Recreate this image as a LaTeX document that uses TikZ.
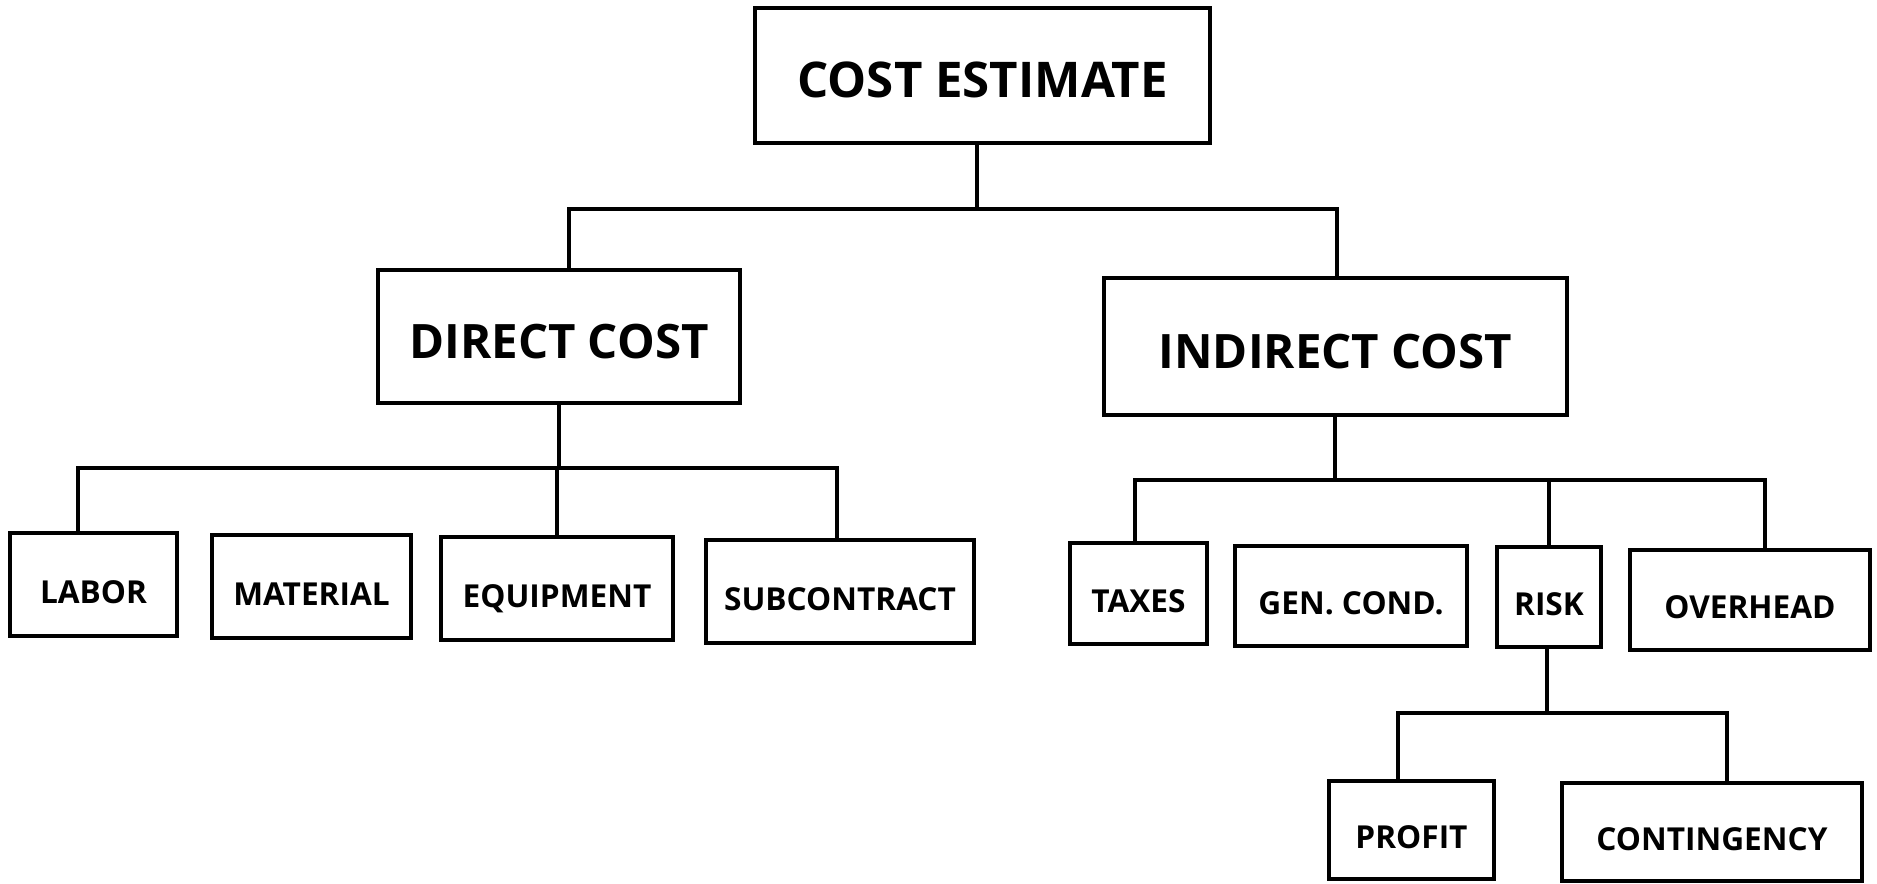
\documentclass[tikz,border=0pt]{standalone}
\usepackage{fontspec}
\setmainfont{Open Sans}
\usetikzlibrary{calc}
\begin{document}
\begin{tikzpicture}[x=0.02cm,y=-0.02cm,
  box/.style={draw,line width=1.8pt,inner sep=0pt,minimum width=#1},
  big/.style={box=#1,font=\bfseries\fontsize{27}{30}\selectfont,text height=25pt,text depth=0pt},
  small/.style={box=#1,font=\bfseries\fontsize{18}{20}\selectfont,text height=21.5pt,text depth=0pt},
  link/.style={line width=1.8pt}]
\useasboundingbox (0,0) rectangle (1877,884);
% top level
\node[big=9.1cm,minimum height=2.7cm,font=\bfseries\fontsize{28}{30}\selectfont] (ce) at (982.5,75.5) {COST ESTIMATE};
\node[big=7.24cm,minimum height=2.66cm] (dc) at (559,336.5) {DIRECT COST};
\node[big=9.26cm,minimum height=2.74cm] (ic) at (1335.5,346.5) {INDIRECT COST};
% direct cost children
\node[small=3.34cm,minimum height=2.06cm] (labor) at (93.5,584.5) {LABOR};
\node[small=3.98cm,minimum height=2.06cm] (mat) at (311.5,586.5) {MATERIAL};
\node[small=4.64cm,minimum height=2.06cm] (equ) at (557,588.5) {EQUIPMENT};
\node[small=5.36cm,minimum height=2.06cm] (sub) at (840,591.5) {SUBCONTRACT};
% indirect cost children
\node[small=2.74cm,minimum height=2.02cm] (tax) at (1138.5,593.5) {TAXES};
\node[small=4.64cm,minimum height=2.0cm] (gen) at (1351,596) {GEN. COND.};
\node[small=2.08cm,minimum height=2.0cm] (risk) at (1549,597) {RISK};
\node[small=4.8cm,minimum height=2.0cm] (ovh) at (1750,600) {OVERHEAD};
% risk children
\node[small=3.3cm,minimum height=1.96cm] (prof) at (1411.5,830) {PROFIT};
\node[small=6.0cm,minimum height=1.96cm] (cont) at (1712,832) {CONTINGENCY};
% connectors: cost estimate
\coordinate (busA) at (977,209);
\draw[link] ($(ce.south)+(-5.5,0)$) -- (busA);
\draw[link] ($(dc.north)+(10,0)$) |- (busA) -| ($(ic.north)+(1.5,0)$);
% direct cost
\coordinate (busB) at (559,468);
\draw[link] (dc.south) -- (busB);
\draw[link] ($(labor.north)+(-15.5,0)$) |- (busB) -| ($(sub.north)+(-3,0)$);
\draw[link] ($(mat.north)+(-2.5,0)$) -- ($(mat.north)+(-2.5,0)$ |- busB);
\draw[link] (equ.north) -- (equ.north |- busB);
% indirect cost
\coordinate (busC) at (1335,480);
\draw[link] ($(ic.south)+(-0.5,0)$) -- (busC);
\draw[link] ($(tax.north)+(-3.5,0)$) |- (busC) -| ($(ovh.north)+(15,0)$);
\draw[link] ($(gen.north)+(-16,0)$) -- ($(gen.north)+(-16,0)$ |- busC);
\draw[link] (risk.north) -- (risk.north |- busC);
% risk
\coordinate (busD) at (1547,713);
\draw[link] ($(risk.south)+(-2,0)$) -- (busD);
\draw[link] ($(prof.north)+(-13.5,0)$) |- (busD) -| ($(cont.north)+(15,0)$);
\end{tikzpicture}
\end{document}
